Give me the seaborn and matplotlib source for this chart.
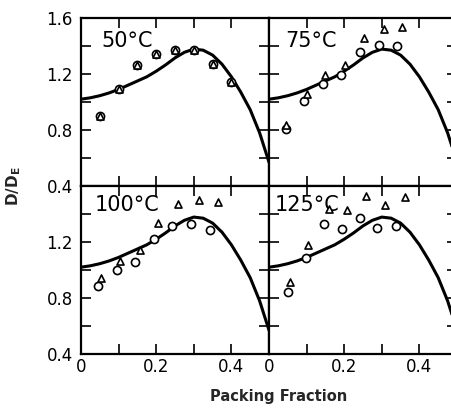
import matplotlib
matplotlib.use("Agg")
import matplotlib.pyplot as plt
import seaborn as sns
import pandas as pd

sns.set_style("ticks")
plt.rcParams['font.family'] = ['DejaVu Sans']

# theoretical curve (same in every panel)
curve_x = [0.0, 0.025, 0.05, 0.075, 0.1, 0.125, 0.15, 0.175, 0.2, 0.225, 0.25,
           0.275, 0.3, 0.325, 0.35, 0.375, 0.4, 0.425, 0.45, 0.475, 0.5]
curve_y = [1.02, 1.03, 1.045, 1.065, 1.09, 1.12, 1.15, 1.18, 1.22, 1.265, 1.315,
           1.355, 1.378, 1.37, 1.335, 1.27, 1.18, 1.07, 0.945, 0.78, 0.57]

temps = ["50°C", "75°C", "100°C", "125°C"]

circ_x_50 = [0.05, 0.10, 0.15, 0.20, 0.25, 0.30, 0.35, 0.40]
circ_y_50 = [0.90, 1.09, 1.265, 1.34, 1.375, 1.37, 1.27, 1.14]
tri_x_50 = [0.05, 0.10, 0.15, 0.20, 0.25, 0.30, 0.35, 0.40]
tri_y_50 = [0.90, 1.09, 1.265, 1.34, 1.375, 1.37, 1.27, 1.14]

circ_x_75 = [0.044, 0.093, 0.143, 0.192, 0.241, 0.292, 0.340]
circ_y_75 = [0.805, 1.01, 1.13, 1.195, 1.357, 1.407, 1.402]
tri_x_75 = [0.045, 0.100, 0.150, 0.203, 0.253, 0.305, 0.355]
tri_y_75 = [0.835, 1.057, 1.193, 1.262, 1.455, 1.52, 1.533]

circ_x_100 = [0.046, 0.096, 0.144, 0.194, 0.242, 0.293, 0.342]
circ_y_100 = [0.883, 0.998, 1.06, 1.219, 1.314, 1.326, 1.288]
tri_x_100 = [0.054, 0.103, 0.156, 0.206, 0.257, 0.313, 0.364]
tri_y_100 = [0.945, 1.064, 1.145, 1.336, 1.469, 1.50, 1.483]

circ_x_125 = [0.050, 0.098, 0.146, 0.193, 0.243, 0.288, 0.337]
circ_y_125 = [0.845, 1.083, 1.326, 1.29, 1.374, 1.302, 1.314]
tri_x_125 = [0.055, 0.104, 0.159, 0.207, 0.259, 0.309, 0.361]
tri_y_125 = [0.914, 1.179, 1.433, 1.426, 1.529, 1.464, 1.521]

circles = [(circ_x_50, circ_y_50), (circ_x_75, circ_y_75),
           (circ_x_100, circ_y_100), (circ_x_125, circ_y_125)]
triangles = [(tri_x_50, tri_y_50), (tri_x_75, tri_y_75),
             (tri_x_100, tri_y_100), (tri_x_125, tri_y_125)]

W, H = 452, 409
fig = plt.figure(figsize=(W / 100, H / 100), dpi=100)

x0_left, x0_right, pw = 81, 269, 188
y_top, ph = 18, 168
positions = [
    (x0_left, y_top), (x0_right, y_top),
    (x0_left, y_top + ph), (x0_right, y_top + ph),
]
label_pos = [(0.11, 0.92), (0.085, 0.92), (0.074, 0.945), (0.032, 0.945)]

curve_df = pd.DataFrame({"x": curve_x, "y": curve_y})

for i, (px, py) in enumerate(positions):
    ax = fig.add_axes([px / W, 1 - (py + ph) / H, pw / W, ph / H])
    sns.lineplot(data=curve_df, x="x", y="y", ax=ax, color="black",
                 linewidth=2.2, sort=False, estimator=None, zorder=2)
    ax.lines[-1].set_solid_joinstyle("round")
    cx, cy = circles[i]
    tx, ty = triangles[i]
    sns.scatterplot(x=cx, y=cy, ax=ax, marker="o", s=34, facecolor="white",
                    edgecolor="black", linewidth=1.2, zorder=3)
    sns.scatterplot(x=tx, y=ty, ax=ax, marker="^", s=26, facecolor="white",
                    edgecolor="black", linewidth=1.2, zorder=4)
    ax.set_xlim(0, 0.5)
    ax.set_ylim(0.4, 1.6)
    ax.set_xlabel("")
    ax.set_ylabel("")
    ax.set_xticks([0, 0.2, 0.4])
    ax.set_xticks([0.1, 0.3, 0.5], minor=True)
    ax.set_yticks([0.4, 0.8, 1.2, 1.6])
    ax.set_yticks([0.6, 1.0, 1.4], minor=True)
    ax.tick_params(which="both", direction="in", top=True, right=True,
                   length=7, width=1.2, labelsize=12, colors="black")
    ax.tick_params(axis="x", pad=3)
    ax.tick_params(axis="y", pad=6)
    ax.set_xticklabels(["0", "0.2", "0.4"])
    if i not in (2, 3):
        ax.tick_params(axis="x", labelbottom=False)
    if i == 0:
        ax.set_yticklabels(["0.4", "0.8", "1.2", "1.6"])
    elif i == 2:
        ax.set_yticklabels(["0.4", "0.8", "1.2", ""])
    else:
        ax.tick_params(axis="y", labelleft=False)
    for s in ax.spines.values():
        s.set_linewidth(1.6)
        s.set_color("black")
    ax.text(label_pos[i][0], label_pos[i][1], temps[i], transform=ax.transAxes,
            ha="left", va="top", fontsize=15, color="black")

fig.text(279 / W, 1 - 397 / H, "Packing Fraction", ha="center", va="center",
         fontsize=10.5, fontweight="bold")
fig.text(14 / W, 1 - 186 / H, r"D/D$_\mathbf{E}$", ha="center", va="center",
         rotation=90, fontsize=11, fontweight="bold")

fig.savefig("out.png", dpi=100, facecolor="white")
